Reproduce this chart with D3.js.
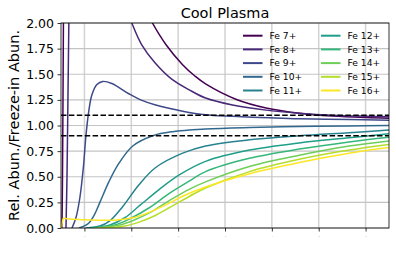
<!DOCTYPE html>
<html lang="en">
<head>
<meta charset="UTF-8">
<title>Cool Plasma</title>
<script src="https://d3js.org/d3.v7.min.js"></script>
<style>
    body { margin: 0; background: #fff; }
    svg { display: block; font-family: "DejaVu Sans", sans-serif; }
</style>
</head>
<body>
<svg id="chart" width="396" height="261"></svg>
<script>
    // ion names, in legend order
    const ions = ['Fe 7+', 'Fe 8+', 'Fe 9+', 'Fe 10+', 'Fe 11+',
                  'Fe 12+', 'Fe 13+', 'Fe 14+', 'Fe 15+', 'Fe 16+'];
    const xTicks = [0, 1, 2, 3, 4, 5, 6];
    const yTicks = [0, 0.25, 0.5, 0.75, 1.0, 1.25, 1.5, 1.75, 2.0];
    const bandLines = [0.9, 1.1];

    // [x, relative abundance / freeze-in abundance]
    const fe7 = [[-0.479, 0], [-0.468, 0.5], [-0.457, 1.3], [-0.447, 2.1], [-0.43, 3.0],
                 [0.9, 2.6], [1.2, 2.23], [1.451, 2.0], [1.734, 1.793], [2.09, 1.596], [2.37, 1.478],
                 [2.585, 1.406], [3.245, 1.254], [3.877, 1.171], [4.585, 1.12], [5.287, 1.092],
                 [6.004, 1.077], [6.5, 1.071]];
    const fe8 = [[-0.394, 0], [-0.372, 0.5], [-0.351, 1.3], [-0.33, 2.1], [-0.309, 3.0],
                 [0.6, 2.6], [0.85, 2.2], [1.011, 2.0], [1.22, 1.79], [1.51, 1.61], [1.87, 1.45],
                 [2.23, 1.35], [2.585, 1.268], [3.16, 1.2], [3.877, 1.15], [4.585, 1.12],
                 [5.287, 1.1], [6.004, 1.09], [6.5, 1.085]];
    const fe9 = [[-0.266, 0], [-0.181, 0.1], [-0.096, 0.3], [-0.021, 0.6], [0.032, 0.9], [0.096, 1.15],
                 [0.16, 1.3], [0.266, 1.4], [0.394, 1.43], [0.585, 1.41], [0.947, 1.31], [1.2, 1.25],
                 [1.521, 1.2], [2.096, 1.14], [2.585, 1.105], [3.16, 1.09], [3.947, 1.075], [4.585, 1.065],
                 [5.649, 1.058], [6.5, 1.052]];
    const fe10 = [[-0.117, 0], [0.074, 0.04], [0.202, 0.12], [0.33, 0.25], [0.521, 0.45], [0.734, 0.63],
                  [1.032, 0.8], [1.457, 0.9], [1.883, 0.94], [2.585, 0.965], [3.521, 0.98], [4.585, 0.99],
                  [5.649, 0.995], [6.5, 1.0]];
    const fe11 = [[0.032, 0], [0.33, 0.02], [0.543, 0.07], [0.819, 0.21], [1.16, 0.42], [1.521, 0.59],
                  [2.096, 0.73], [2.585, 0.8], [3.521, 0.86], [4.585, 0.9], [5.649, 0.93], [6.5, 0.955]];
    const fe12 = [[0.074, 0], [0.543, 0.03], [0.862, 0.1], [1.181, 0.22], [1.606, 0.38], [2.032, 0.52],
                  [2.585, 0.65], [3.521, 0.76], [4.585, 0.83], [5.649, 0.88], [6.5, 0.92]];
    const fe13 = [[0.16, 0], [0.649, 0.03], [0.968, 0.09], [1.394, 0.2], [1.819, 0.34], [2.245, 0.46],
                  [2.585, 0.55], [3.521, 0.68], [4.585, 0.77], [5.649, 0.84], [6.5, 0.885]];
    const fe14 = [[0.223, 0], [0.755, 0.03], [1.074, 0.08], [1.394, 0.15], [1.819, 0.27], [2.245, 0.38],
                  [2.585, 0.45], [3.521, 0.6], [4.585, 0.71], [5.649, 0.8], [6.5, 0.85]];
    const fe15 = [[0.287, 0], [0.862, 0.02], [1.181, 0.06], [1.5, 0.12], [1.819, 0.2], [2.245, 0.31],
                  [2.585, 0.39], [3.521, 0.55], [4.585, 0.67], [5.649, 0.76], [6.5, 0.815]];
    const fe16 = [[-0.489, 0], [-0.472, 0.06], [-0.447, 0.095], [-0.394, 0.092], [-0.309, 0.088],
                  [-0.032, 0.081], [0.33, 0.075], [0.691, 0.078], [1.032, 0.1], [1.394, 0.155],
                  [1.755, 0.23], [2.096, 0.31], [2.585, 0.4], [3.521, 0.53], [4.585, 0.64],
                  [5.649, 0.73], [6.5, 0.785]];
    const series = [fe7, fe8, fe9, fe10, fe11, fe12, fe13, fe14, fe15, fe16];

    const margin = {left: 61, right: 7, top: 23, bottom: 33};
    const W = 396, H = 261;
    const svg = d3.select('#chart');

    const x = d3.scaleLinear().domain([-0.5, 6.5]).range([margin.left, W - margin.right]);
    const y = d3.scaleLinear().domain([0, 2]).range([H - margin.bottom, margin.top]);
    const color = i => d3.interpolateViridis(i / (ions.length - 1));

    svg.append('defs').append('clipPath').attr('id', 'plot')
        .append('rect')
        .attr('x', x.range()[0]).attr('y', y.range()[1])
        .attr('width', x.range()[1] - x.range()[0])
        .attr('height', y.range()[0] - y.range()[1]);

    // grid
    const grid = svg.append('g');
    grid.selectAll('.gx').data(xTicks).enter().append('line')
        .attr('x1', d => x(d)).attr('x2', d => x(d))
        .attr('y1', y.range()[0]).attr('y2', y.range()[1])
        .attr('stroke', '#d2d2d2').attr('stroke-width', 1.5);
    grid.selectAll('.gy').data(yTicks).enter().append('line')
        .attr('x1', x.range()[0]).attr('x2', x.range()[1])
        .attr('y1', d => y(d)).attr('y2', d => y(d))
        .attr('stroke', '#c4c4c4').attr('stroke-width', 1.2);

    const plot = svg.append('g').attr('clip-path', 'url(#plot)');

    const line = d3.line()
        .x(d => x(d[0])).y(d => y(d[1]))
        .curve(d3.curveCatmullRom.alpha(0.5));

    plot.selectAll('path.ion').data(series).enter().append('path')
        .attr('class', 'ion')
        .attr('d', line)
        .attr('fill', 'none')
        .attr('stroke', (d, i) => color(i))
        .attr('stroke-width', 1.5);

    plot.selectAll('line.band').data(bandLines).enter().append('line')
        .attr('x1', x.range()[0]).attr('x2', x.range()[1])
        .attr('y1', d => y(d)).attr('y2', d => y(d))
        .attr('stroke', '#000').attr('stroke-width', 1.5)
        .attr('stroke-dasharray', '5.5,2.4');

    // axes
    const xAxis = svg.append('g')
        .attr('transform', `translate(0,${y.range()[0]})`)
        .call(d3.axisBottom(x).tickValues(xTicks).tickSize(3.5).tickPadding(4).tickFormat(d3.format('d')));
    xAxis.selectAll('text').attr('font-size', 2).attr('fill', '#999');

    const yAxis = svg.append('g')
        .attr('transform', `translate(${x.range()[0]},0)`)
        .call(d3.axisLeft(y).tickValues(yTicks).tickSize(3.5).tickPadding(3.5).tickFormat(d3.format('.2f')));
    yAxis.selectAll('text').attr('font-size', 12.5).attr('fill', '#000')
        .attr('font-family', '"DejaVu Sans", sans-serif');
    svg.selectAll('.domain').remove();
    svg.selectAll('.tick line').attr('stroke', '#000').attr('stroke-width', 0.8);

    svg.append('rect')
        .attr('x', x.range()[0]).attr('y', y.range()[1])
        .attr('width', x.range()[1] - x.range()[0])
        .attr('height', y.range()[0] - y.range()[1])
        .attr('fill', 'none').attr('stroke', '#000').attr('stroke-width', 0.8);

    // title and label
    svg.append('text')
        .attr('x', (x.range()[0] + x.range()[1]) / 2).attr('y', 18)
        .attr('text-anchor', 'middle').attr('font-size', 14.5)
        .text('Cool Plasma');

    svg.append('text')
        .attr('transform', `translate(18.5,${(y.range()[0] + y.range()[1]) / 2}) rotate(-90)`)
        .attr('text-anchor', 'middle').attr('font-size', 14.5)
        .text('Rel. Abun./Freeze-in Abun.');

    // legend, two columns, no frame
    const legend = svg.append('g');
    const items = legend.selectAll('g').data(ions).enter().append('g')
        .attr('transform', (d, i) => `translate(${i < 5 ? 243 : 321},${35.7 + (i % 5) * 13.7})`);
    items.append('line')
        .attr('x1', 0).attr('x2', 19.5)
        .attr('stroke', (d, i) => color(i)).attr('stroke-width', 2);
    items.append('text')
        .attr('x', 26.5).attr('y', 3.3)
        .attr('font-size', 9.2)
        .text(d => d);
</script>
</body>
</html>
